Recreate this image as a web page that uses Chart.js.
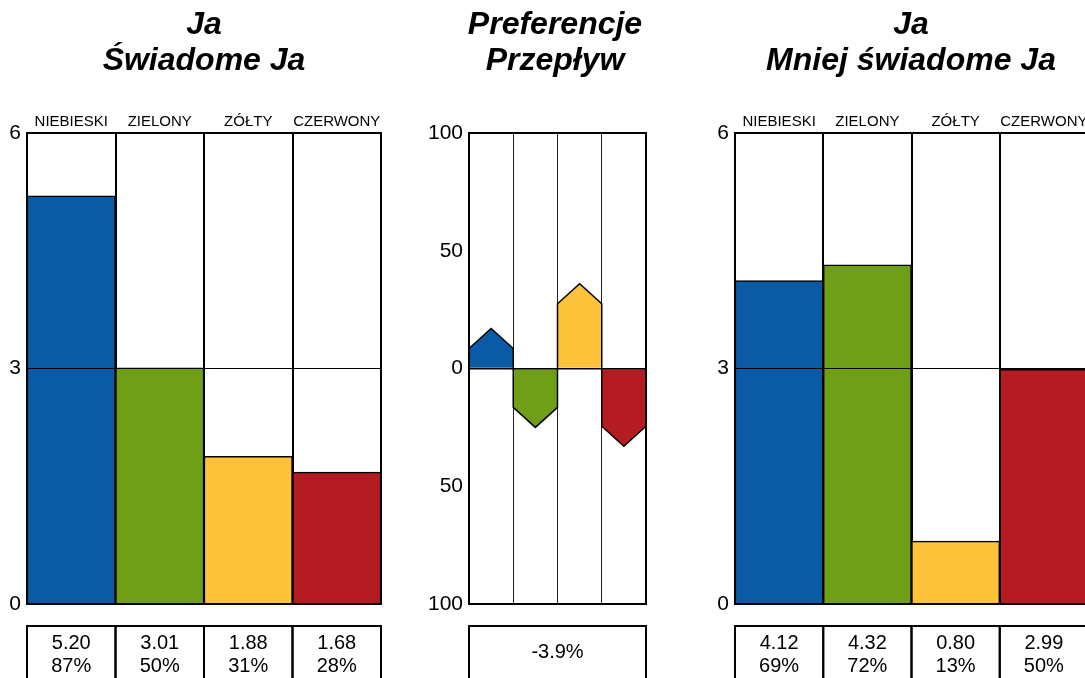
<!DOCTYPE html>
<html>
<head>
<meta charset="utf-8">
<script src="https://cdn.jsdelivr.net/npm/chart.js@4"></script>
<style>
  html, body { margin: 0; padding: 0; background: #fff; overflow: hidden; width: 1085px; height: 678px; position: relative; }
  canvas { position: absolute; top: 0; }
</style>
</head>
<body>
<canvas id="conscious" width="408" height="678" style="left:0px"></canvas>
<canvas id="flow" width="310" height="678" style="left:400px"></canvas>
<canvas id="less" width="442" height="678" style="left:690px"></canvas>
<script>
const FONT = '"Liberation Sans", Arial, sans-serif';

const categories = ["NIEBIESKI", "ZIELONY", "ZÓŁTY", "CZERWONY"];
const colors = ["#0b5aa5", "#6f9e17", "#fec33a", "#b51c21"];

const consciousTitle = ["Ja", "Świadome Ja"];
const consciousValues = [5.20, 3.01, 1.88, 1.68];
const consciousPercents = [87, 50, 31, 28];

const lessTitle = ["Ja", "Mniej świadome Ja"];
const lessValues = [4.12, 4.32, 0.80, 2.99];
const lessPercents = [69, 72, 13, 50];

const flowTitle = ["Preferencje", "Przepływ"];
const flowValues = [17, -25, 36, -33];
const flowTotal = "-3.9%";

const scoreMax = 6;
const scoreStep = 3;
const flowMax = 100;
const flowStep = 50;

// two line bold italic heading, centred on the canvas
const titlePlugin = {
  id: "twoLineTitle",
  afterDraw(chart, args, opts) {
    const ctx = chart.ctx;
    ctx.save();
    ctx.font = "italic bold 32px " + FONT;
    ctx.textAlign = "center";
    ctx.textBaseline = "middle";
    ctx.fillStyle = "#000";
    opts.lines.forEach((t, i) => ctx.fillText(t, chart.width / 2, 25 + i * 36));
    ctx.restore();
  }
};

// black box round the plot area
const framePlugin = {
  id: "frame",
  afterDraw(chart) {
    const { ctx, chartArea } = chart;
    ctx.save();
    ctx.strokeStyle = "#000";
    ctx.lineWidth = 2;
    ctx.strokeRect(chartArea.left, chartArea.top, chartArea.right - chartArea.left, chartArea.bottom - chartArea.top);
    ctx.restore();
  }
};

// value boxes under the plot
const tablePlugin = {
  id: "valueTable",
  afterDraw(chart, args, opts) {
    const { ctx, chartArea } = chart;
    const xScale = chart.scales.x;
    const top = chartArea.bottom + 22;
    ctx.save();
    ctx.strokeStyle = "#000";
    ctx.lineWidth = 2;
    ctx.fillStyle = "#000";
    ctx.font = "20px " + FONT;
    ctx.textAlign = "center";
    ctx.textBaseline = "middle";
    if (opts.single) {
      ctx.strokeRect(chartArea.left, top, chartArea.right - chartArea.left, 100);
      ctx.fillText(opts.single, (chartArea.left + chartArea.right) / 2, top + 26);
    } else {
      const w = (chartArea.right - chartArea.left) / opts.cells.length;
      opts.cells.forEach((lines, i) => {
        const cx = xScale.getPixelForValue(i);
        ctx.strokeRect(cx - w / 2, top, w, 100);
        lines.forEach((t, j) => ctx.fillText(t, cx, top + 17 + j * 23));
      });
    }
    ctx.restore();
  }
};

// pentagon arrows drawn on the bar elements of the flow chart
const arrowPlugin = {
  id: "arrows",
  afterDatasetsDraw(chart, args, opts) {
    if (!opts.enabled) return;
    const ctx = chart.ctx;
    const head = 20;
    ctx.save();
    ctx.strokeStyle = "#000";
    ctx.lineWidth = 1.5;
    chart.getDatasetMeta(0).data.forEach((bar, i) => {
      const l = bar.x - bar.width / 2, r = bar.x + bar.width / 2;
      const dir = bar.y < bar.base ? 1 : -1;
      const neck = bar.y + dir * head;
      ctx.beginPath();
      ctx.moveTo(l, bar.base);
      ctx.lineTo(l, neck);
      ctx.lineTo(bar.x, bar.y);
      ctx.lineTo(r, neck);
      ctx.lineTo(r, bar.base);
      ctx.closePath();
      ctx.fillStyle = colors[i];
      ctx.fill();
      ctx.beginPath();
      ctx.moveTo(l, bar.base);
      ctx.lineTo(l, neck);
      ctx.lineTo(bar.x, bar.y);
      ctx.lineTo(r, neck);
      ctx.lineTo(r, bar.base);
      ctx.stroke();
    });
    ctx.restore();
  }
};

function scoreChart(id, title, values, percents, axisWidth, rightPad) {
  return new Chart(document.getElementById(id), {
    type: "bar",
    data: {
      labels: categories,
      datasets: [{
        data: values,
        backgroundColor: colors,
        borderColor: "#000",
        borderWidth: 1.5,
        barPercentage: 1,
        categoryPercentage: 1
      }]
    },
    options: {
      responsive: false,
      animation: false,
      devicePixelRatio: 1,
      layout: { padding: { top: 76, bottom: 74, right: rightPad, left: 0 } },
      plugins: {
        legend: { display: false },
        tooltip: { enabled: false },
        twoLineTitle: { lines: title },
        valueTable: { cells: values.map((v, i) => [v.toFixed(2), percents[i] + "%"]) },
        arrows: { enabled: false }
      },
      scales: {
        x: {
          position: "top",
          afterFit(s) { s.height = 57; },
          grid: { offset: true, color: "#000", lineWidth: 2, drawTicks: false },
          border: { display: false },
          ticks: { color: "#000", font: { family: FONT, size: 15 }, padding: 2, autoSkip: false, maxRotation: 0 }
        },
        y: {
          min: 0,
          max: scoreMax,
          afterFit(s) { s.width = axisWidth; },
          grid: { color: "#000", lineWidth: 1, drawTicks: false, z: 1 },
          border: { display: false },
          ticks: { stepSize: scoreStep, color: "#000", font: { family: FONT, size: 21 }, padding: 6 }
        }
      }
    },
    plugins: [titlePlugin, framePlugin, tablePlugin, arrowPlugin]
  });
}

scoreChart("conscious", consciousTitle, consciousValues, consciousPercents, 27, 27);
scoreChart("less", lessTitle, lessValues, lessPercents, 45, 44);

new Chart(document.getElementById("flow"), {
  type: "bar",
  data: {
    labels: categories,
    datasets: [{
      data: flowValues,
      backgroundColor: "rgba(0,0,0,0)",
      borderWidth: 0,
      barPercentage: 1,
      categoryPercentage: 1
    }]
  },
  options: {
    responsive: false,
    animation: false,
    devicePixelRatio: 1,
    layout: { padding: { top: 76, bottom: 74, right: 64, left: 0 } },
    plugins: {
      legend: { display: false },
      tooltip: { enabled: false },
      twoLineTitle: { lines: flowTitle },
      valueTable: { single: flowTotal },
      arrows: { enabled: true }
    },
    scales: {
      x: {
        position: "top",
        afterFit(s) { s.height = 57; },
        grid: { offset: true, color: "#222", lineWidth: 1, drawTicks: false },
        border: { display: false },
        ticks: { display: false }
      },
      y: {
        min: -flowMax,
        max: flowMax,
        afterFit(s) { s.width = 69; },
        grid: {
          color: ctx => (ctx.tick && ctx.tick.value === 0 ? "#000" : "rgba(0,0,0,0)"),
          lineWidth: 1.5,
          drawTicks: false,
          z: 1
        },
        border: { display: false },
        ticks: {
          stepSize: flowStep,
          color: "#000",
          font: { family: FONT, size: 21 },
          padding: 6,
          callback: v => Math.abs(v)
        }
      }
    }
  },
  plugins: [titlePlugin, framePlugin, tablePlugin, arrowPlugin]
});
</script>
</body>
</html>
